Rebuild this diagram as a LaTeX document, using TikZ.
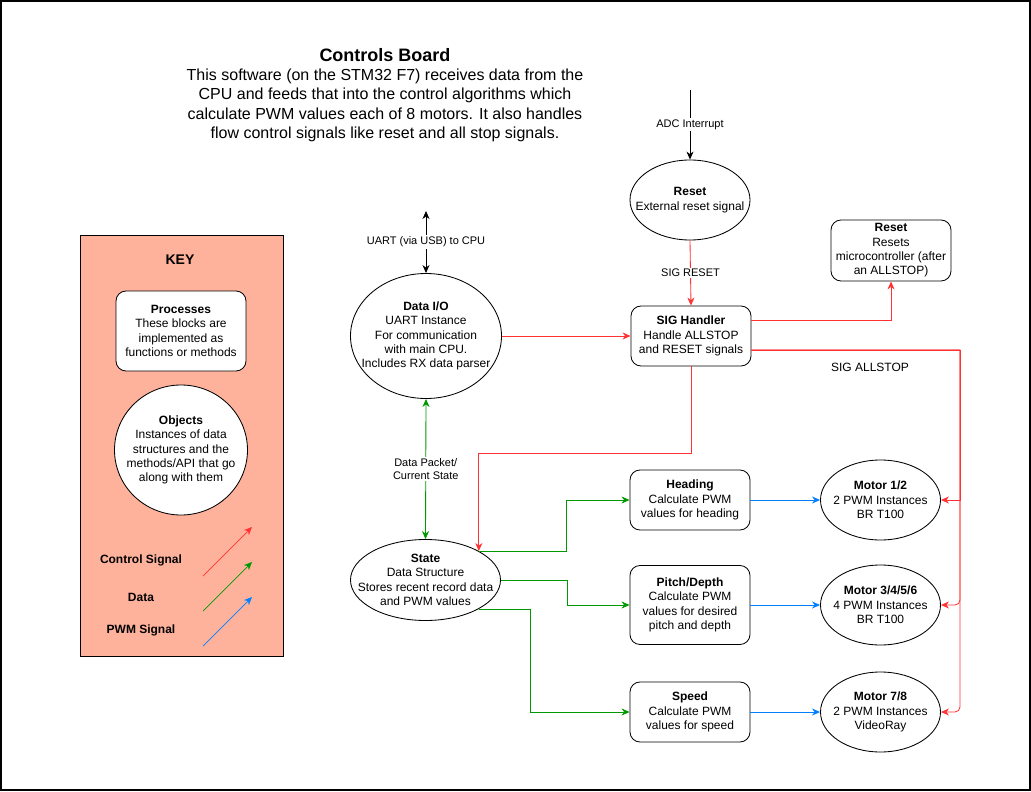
\documentclass[tikz,border=0pt]{standalone}
\usepackage{fontspec}
\setmainfont{Liberation Sans}
\usetikzlibrary{arrows.meta,shapes.geometric,calc}
\definecolor{cred}{HTML}{FF3333}
\definecolor{cgreen}{HTML}{009900}
\definecolor{cblue}{HTML}{007FFF}
\definecolor{keyfill}{HTML}{FFB29B}
\tikzset{
  txt/.style={font=\fontsize{12}{14.4}\selectfont, align=center, inner sep=0pt},
  proc/.style={draw, rounded corners=10pt, fill=white, inner sep=0pt, line width=0.85pt},
  obj/.style={draw, ellipse, fill=white, inner sep=0pt, line width=0.85pt},
  elab/.style={font=\fontsize{11}{13}\selectfont, align=center, fill=white, inner sep=1.5pt},
  tip/.style={-{Stealth[length=8pt,width=7pt,inset=2.5pt]}},
  tips/.style={{Stealth[length=8pt,width=7pt,inset=2.5pt]}-{Stealth[length=8pt,width=7pt,inset=2.5pt]}},
  blk/.style={draw=black, line width=0.85pt, tip},
  ctl/.style={draw=cred, line width=0.85pt, tip},
  dat/.style={draw=cgreen, line width=0.85pt, tip},
  pwm/.style={draw=cblue, line width=0.85pt, tip},
}
\begin{document}
\begin{tikzpicture}[x=1pt,y=-1pt]
\useasboundingbox (0,0) rectangle (1031,792);
\draw[line width=2pt] (1,1) rectangle (1030,790);

% title
\node[align=center, font=\fontsize{16}{19.3}\selectfont, inner sep=0pt] (title) at (385,95)
  {{\fontsize{18}{19.3}\selectfont\textbf{Controls Board}}\\This software (on the STM32 F7) receives data from the\\CPU and feeds that into the control algorithms which\\calculate PWM values each of 8 motors. It also handles\\flow control signals like reset and all stop signals.};

% key
\node[draw, fill=keyfill, line width=0.85pt, minimum width=203, minimum height=421, inner sep=0pt] (keybox) at (181.5,445.5) {};
\node[font=\fontsize{14}{16}\selectfont\bfseries, inner sep=0pt] (keytitle) at (180,260) {KEY};
\node[proc, minimum width=130, minimum height=80,
  label={[txt]center:{\textbf{Processes}\\These blocks are\\implemented as\\functions or methods}}] (kproc) at (181,331) {};
\node[obj, minimum width=133, minimum height=130,
  label={[txt]center:{\textbf{Objects}\\Instances of data\\structures and the\\methods/API that go\\along with them}}] (kobj) at (181,450) {};
\node[txt, font=\fontsize{12}{14.4}\selectfont\bfseries] (kctl) at (141,560) {Control Signal};
\node[txt, font=\fontsize{12}{14.4}\selectfont\bfseries] (kdat) at (141,597) {Data};
\node[txt, font=\fontsize{12}{14.4}\selectfont\bfseries] (kpwm) at (141,630) {PWM Signal};
\coordinate (kc1) at (203,576); \coordinate (kc2) at (252,527);
\coordinate (kd1) at (203,611); \coordinate (kd2) at (252,562);
\coordinate (kp1) at (203,646); \coordinate (kp2) at (252,597);
\draw[ctl, line width=0.7pt] (kc1) -- (kc2);
\draw[dat, line width=0.7pt] (kd1) -- (kd2);
\draw[pwm, line width=0.7pt] (kp1) -- (kp2);

% main nodes
\node[obj, minimum width=151, minimum height=125,
  label={[txt]center:{\textbf{Data I/O}\\UART Instance\\For communication\\with main CPU.\\Includes RX data parser}}] (dataio) at (426,336) {};
\node[obj, minimum width=150, minimum height=81,
  label={[txt]center:{\textbf{State}\\Data Structure\\Stores recent record data\\and PWM values}}] (state) at (425.5,580) {};
\node[obj, minimum width=120, minimum height=80,
  label={[txt]center:{\textbf{Reset}\\External reset signal}}] (reset) at (690,200) {};
\node[proc, minimum width=120, minimum height=60,
  label={[txt]center:{\textbf{SIG Handler}\\Handle ALLSTOP\\and RESET signals}}] (sig) at (691,336) {};
\node[proc, minimum width=120, minimum height=61,
  label={[txt]center:{\textbf{Reset}\\Resets\\microcontroller (after\\an ALLSTOP)}}] (rstbox) at (891,250.5) {};
\node[proc, minimum width=120, minimum height=60,
  label={[txt]center:{\textbf{Heading}\\Calculate PWM\\values for heading}}] (head) at (690,500) {};
\node[proc, minimum width=120, minimum height=79,
  label={[txt]center:{\textbf{Pitch/Depth}\\Calculate PWM\\values for desired\\pitch and depth}}] (pitch) at (690,605) {};
\node[proc, minimum width=120, minimum height=60,
  label={[txt]center:{\textbf{Speed}\\Calculate PWM\\values for speed}}] (speed) at (690,712) {};
\node[obj, minimum width=120, minimum height=80,
  label={[txt]center:{\textbf{Motor 1/2}\\2 PWM Instances\\BR T100}}] (m12) at (880.5,500) {};
\node[obj, minimum width=120, minimum height=80,
  label={[txt]center:{\textbf{Motor 3/4/5/6}\\4 PWM Instances\\BR T100}}] (m3456) at (880.5,605) {};
\node[obj, minimum width=120, minimum height=80,
  label={[txt]center:{\textbf{Motor 7/8}\\2 PWM Instances\\VideoRay}}] (m78) at (880.5,712) {};

\node[txt] (allstop) at (870,367) {SIG ALLSTOP};

% connectors
\coordinate (uarttop) at (426,211);
\coordinate (adctop) at (690,90);
\coordinate (trunk) at (960,350);
\draw[blk, tips] (uarttop) -- (dataio.north) node[elab, midway] {UART (via USB) to CPU};
\draw[blk] (adctop) -- (reset.north) node[elab, midway] {ADC Interrupt};
\draw[ctl] (reset.south) -- (sig.north) node[elab, midway] {SIG RESET};
\draw[ctl] (dataio.east) -- (sig.west);
\draw[ctl] ([yshift=16pt]sig.east) -| (rstbox.south);
\draw[ctl] ([yshift=-14pt]sig.east) -- (trunk) |- (m12.east);
\draw[ctl] ([yshift=-14pt]sig.east) -- (trunk) [rounded corners=5pt] |- (m3456.east);
\draw[ctl] ([yshift=-14pt]sig.east) -- (trunk) [rounded corners=5pt] |- (m78.east);
\draw[ctl] (sig.south) -- ++(0,87) -| (state.north east);
\draw[dat, tips] (dataio.south) -- (state.north) node[elab, midway] {Data Packet/\\Current State};
\draw[dat] (state.north east) -- ++(88,0) |- (head.west);
\draw[dat] (state.east) -- ++(66,0) |- (pitch.west);
\draw[dat] (state.south east) -- ++(52,0) |- (speed.west);
\draw[pwm] (head.east) -- (m12.west);
\draw[pwm] (pitch.east) -- (m3456.west);
\draw[pwm] (speed.east) -- (m78.west);
\end{tikzpicture}
\end{document}
